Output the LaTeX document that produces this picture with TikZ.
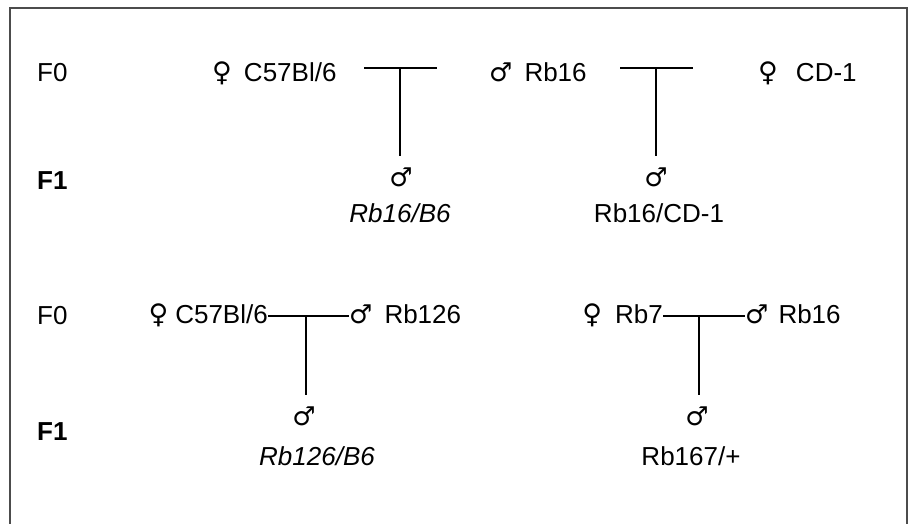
\documentclass[tikz,border=0pt]{standalone}
\usepackage{fontspec}
\setmainfont{Liberation Sans}
\newfontfamily\symfont{DejaVu Sans}
\newcommand{\fem}{{\symfont\fontsize{27}{30}\selectfont ♀}}
\newcommand{\mal}{{\symfont\fontsize{26}{30}\selectfont ♂}}
\begin{document}
\begin{tikzpicture}[x=1pt,y=-1pt,
  lbl/.style={inner sep=0pt, font=\fontsize{26}{30}\selectfont},
  sexsym/.style={inner sep=0pt},
  gen/.style={inner sep=0pt, anchor=base west, font=\fontsize{26}{30}\selectfont},
  cross/.style={line width=1.3pt, black},
  descent/.style={cross, shorten >=11pt},
  frameline/.style={line width=1.8pt, black!70}]
\useasboundingbox (0,0) rectangle (912,524);
% open frame (top, left, right)
\coordinate (fbl) at (10,524);
\coordinate (ftl) at (10,8);
\coordinate (ftr) at (907,8);
\coordinate (fbr) at (907,524);
\draw[frameline] (fbl) -- (ftl) -- (ftr) -- (fbr);

% generation labels
\node[gen] (g0a) at (37,82) {F0};
\node[gen] (g1a) at (37,189) {\bfseries F1};
\node[gen] (g0b) at (37,324) {F0};
\node[gen] (g1b) at (37,440) {\bfseries F1};

% ---- upper crosses ----
\node[lbl, anchor=base west] (p1) at (212,82) {\fem\hspace{12pt}C57Bl/6};
\node[lbl, anchor=base west] (p2) at (489,82) {\mal\hspace{12pt}Rb16};
\node[lbl, anchor=base west] (p3) at (758,82) {\fem\hspace{18pt}CD-1};

\coordinate (x1l) at (364,68);
\coordinate (x1) at (400,68);
\coordinate (x1r) at (437,68);
\coordinate (x2l) at (620,68);
\coordinate (x2) at (656,68);
\coordinate (x2r) at (693,68);

\node[sexsym, anchor=base] (o1s) at (401,186) {\mal};
\node[lbl, anchor=base] (o1) at (400,222) {\itshape Rb16/B6};
\node[sexsym, anchor=base] (o2s) at (656,186) {\mal};
\node[lbl, anchor=base] (o2) at (659,222) {Rb16/CD-1};

\draw[cross] (x1l) -- (x1r);
\draw[descent] (x1) -- (x1 |- o1s.north);
\draw[cross] (x2l) -- (x2r);
\draw[descent] (x2) -- (x2 |- o2s.north);

% ---- lower crosses ----
\node[lbl, anchor=base east] (p4) at (268,323) {\fem\hspace{7pt}C57Bl/6};
\node[lbl, anchor=base west] (p5) at (349,323) {\mal\hspace{12pt}Rb126};
\node[lbl, anchor=base east] (p6) at (663,323) {\fem\hspace{13pt}Rb7};
\node[lbl, anchor=base west] (p7) at (745,323) {\mal\hspace{10pt}Rb16};

\coordinate (x3) at (306,316);
\coordinate (x4) at (699,316);

\node[sexsym, anchor=base] (o3s) at (304,425) {\mal};
\node[lbl, anchor=base] (o3) at (317,465) {\itshape Rb126/B6};
\node[sexsym, anchor=base] (o4s) at (697,425) {\mal};
\node[lbl, anchor=base] (o4) at (691,465) {Rb167/+};

\draw[cross] (p4.east |- x3) -- (p5.west |- x3);
\draw[descent] (x3) -- (x3 |- o3s.north);
\draw[cross] (p6.east |- x4) -- (p7.west |- x4);
\draw[descent] (x4) -- (x4 |- o4s.north);
\end{tikzpicture}
\end{document}
